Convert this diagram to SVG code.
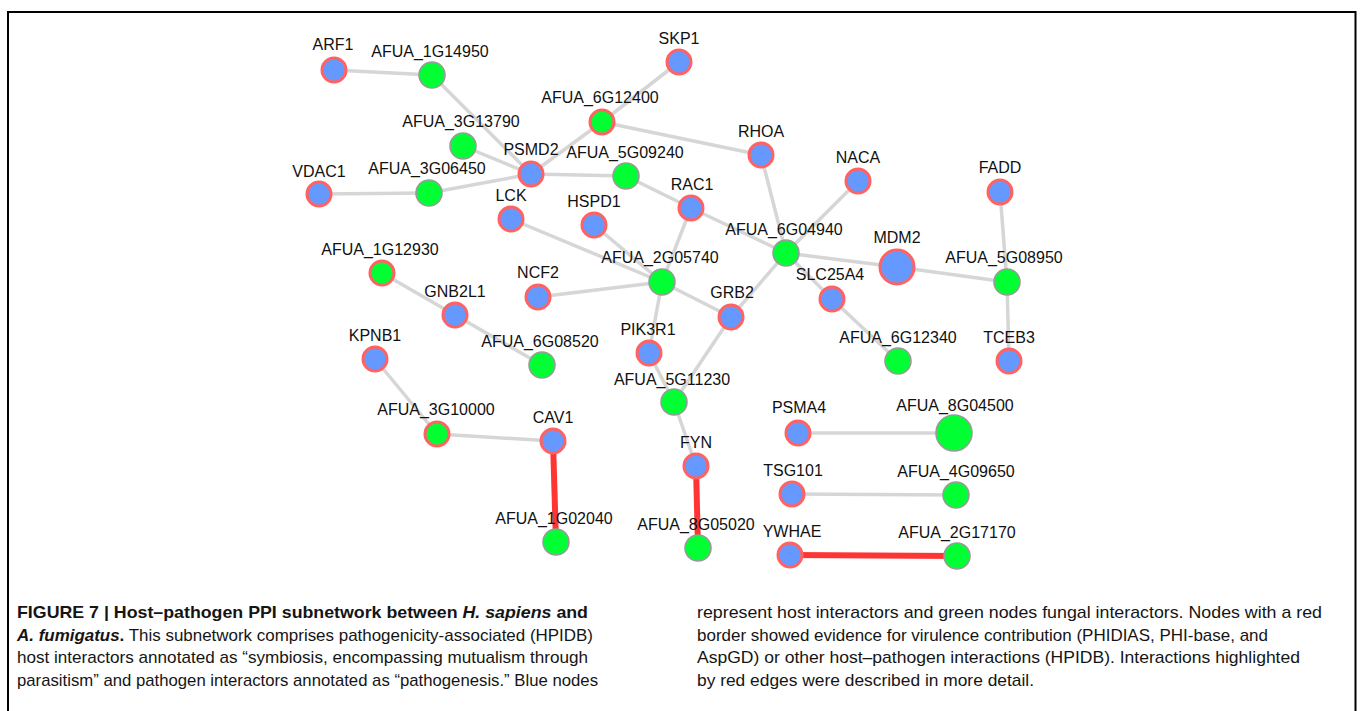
<svg xmlns="http://www.w3.org/2000/svg" width="1362" height="711" viewBox="0 0 1362 711">
<style>
.lbl{font-family:"Liberation Sans",Arial,sans-serif;font-size:16px;fill:#111;text-anchor:middle}
.host{fill:#6699ff;stroke:#ff6262;stroke-width:3}
.fun{fill:#00ff33;stroke:#9a9a9a;stroke-width:1.6}
.funr{fill:#00ff33;stroke:#ff6262;stroke-width:3}
.e{stroke:#d6d6d6;stroke-width:3.5;fill:none}
.er{stroke:#ff3535;stroke-width:6;fill:none}
.cap{font-family:"Liberation Sans",Arial,sans-serif;font-size:17px;fill:#151515}
</style>
<rect x="0" y="0" width="1362" height="711" fill="#fff"/>
<path d="M8,711 V12 H1355.5 V711" fill="none" stroke="#000" stroke-width="2"/>
<g id="connectors">
<line class="e" x1="334" y1="70" x2="432" y2="75"/>
<line class="e" x1="432" y1="75" x2="531" y2="174"/>
<line class="e" x1="463" y1="146" x2="531" y2="174"/>
<line class="e" x1="429" y1="193" x2="531" y2="174"/>
<line class="e" x1="319" y1="194" x2="429" y2="193"/>
<line class="e" x1="531" y1="174" x2="602" y2="122"/>
<line class="e" x1="679" y1="62" x2="602" y2="122"/>
<line class="e" x1="602" y1="122" x2="761" y2="155"/>
<line class="e" x1="531" y1="174" x2="626" y2="176"/>
<line class="e" x1="626" y1="176" x2="691" y2="208"/>
<line class="e" x1="691" y1="208" x2="786" y2="253"/>
<line class="e" x1="691" y1="208" x2="662" y2="282"/>
<line class="e" x1="761" y1="155" x2="786" y2="253"/>
<line class="e" x1="858" y1="181" x2="786" y2="253"/>
<line class="e" x1="786" y1="253" x2="897" y2="267"/>
<line class="e" x1="786" y1="253" x2="731" y2="317"/>
<line class="e" x1="786" y1="253" x2="832" y2="299"/>
<line class="e" x1="832" y1="299" x2="898" y2="361"/>
<line class="e" x1="897" y1="267" x2="1007" y2="282"/>
<line class="e" x1="1000" y1="192" x2="1007" y2="282"/>
<line class="e" x1="1007" y1="282" x2="1009" y2="361"/>
<line class="e" x1="511" y1="219" x2="662" y2="282"/>
<line class="e" x1="594" y1="225" x2="662" y2="282"/>
<line class="e" x1="538" y1="297" x2="662" y2="282"/>
<line class="e" x1="662" y1="282" x2="731" y2="317"/>
<line class="e" x1="662" y1="282" x2="649" y2="353"/>
<line class="e" x1="649" y1="353" x2="674" y2="402"/>
<line class="e" x1="731" y1="317" x2="674" y2="402"/>
<line class="e" x1="674" y1="402" x2="696" y2="466"/>
<line class="e" x1="382" y1="273" x2="455" y2="315"/>
<line class="e" x1="455" y1="315" x2="542" y2="365"/>
<line class="e" x1="375" y1="359" x2="437" y2="434"/>
<line class="e" x1="437" y1="434" x2="553" y2="441"/>
<line class="e" x1="798" y1="433" x2="954" y2="433"/>
<line class="e" x1="792" y1="494" x2="956" y2="495"/>
<line class="er" x1="553" y1="441" x2="556" y2="542"/>
<line class="er" x1="696" y1="466" x2="698" y2="548"/>
<line class="er" x1="790" y1="555" x2="957" y2="556"/>
</g>
<g id="n-ARF1"><circle class="host" cx="334" cy="70" r="12"/><text class="lbl" x="333" y="50">ARF1</text></g>
<g id="n-AFUA_1G14950"><circle class="fun" cx="432" cy="75" r="13"/><text class="lbl" x="430" y="57">AFUA_1G14950</text></g>
<g id="n-SKP1"><circle class="host" cx="679" cy="62" r="12"/><text class="lbl" x="679" y="44">SKP1</text></g>
<g id="n-AFUA_6G12400"><circle class="funr" cx="602" cy="122" r="12"/><text class="lbl" x="600" y="103">AFUA_6G12400</text></g>
<g id="n-AFUA_3G13790"><circle class="fun" cx="463" cy="146" r="13"/><text class="lbl" x="461" y="127">AFUA_3G13790</text></g>
<g id="n-RHOA"><circle class="host" cx="761" cy="155" r="12"/><text class="lbl" x="761" y="137">RHOA</text></g>
<g id="n-PSMD2"><circle class="host" cx="531" cy="174" r="12"/><text class="lbl" x="531" y="155">PSMD2</text></g>
<g id="n-AFUA_5G09240"><circle class="fun" cx="626" cy="176" r="13"/><text class="lbl" x="625" y="158">AFUA_5G09240</text></g>
<g id="n-NACA"><circle class="host" cx="858" cy="181" r="12"/><text class="lbl" x="858" y="163">NACA</text></g>
<g id="n-VDAC1"><circle class="host" cx="319" cy="194" r="12"/><text class="lbl" x="319" y="177">VDAC1</text></g>
<g id="n-AFUA_3G06450"><circle class="fun" cx="429" cy="193" r="13"/><text class="lbl" x="427" y="174">AFUA_3G06450</text></g>
<g id="n-FADD"><circle class="host" cx="1000" cy="192" r="12"/><text class="lbl" x="1000" y="173">FADD</text></g>
<g id="n-RAC1"><circle class="host" cx="691" cy="208" r="12"/><text class="lbl" x="692" y="190">RAC1</text></g>
<g id="n-LCK"><circle class="host" cx="511" cy="219" r="12"/><text class="lbl" x="511" y="201">LCK</text></g>
<g id="n-HSPD1"><circle class="host" cx="594" cy="225" r="12"/><text class="lbl" x="594" y="207">HSPD1</text></g>
<g id="n-AFUA_6G04940"><circle class="fun" cx="786" cy="253" r="13"/><text class="lbl" x="784" y="235">AFUA_6G04940</text></g>
<g id="n-MDM2"><circle class="host" cx="897" cy="267" r="17"/><text class="lbl" x="897" y="243">MDM2</text></g>
<g id="n-AFUA_5G08950"><circle class="fun" cx="1007" cy="282" r="13"/><text class="lbl" x="1004" y="263">AFUA_5G08950</text></g>
<g id="n-AFUA_2G05740"><circle class="fun" cx="662" cy="282" r="13"/><text class="lbl" x="660" y="263">AFUA_2G05740</text></g>
<g id="n-AFUA_1G12930"><circle class="funr" cx="382" cy="273" r="12"/><text class="lbl" x="380" y="255">AFUA_1G12930</text></g>
<g id="n-NCF2"><circle class="host" cx="538" cy="297" r="12"/><text class="lbl" x="538" y="278">NCF2</text></g>
<g id="n-SLC25A4"><circle class="host" cx="832" cy="299" r="12"/><text class="lbl" x="830" y="280">SLC25A4</text></g>
<g id="n-GRB2"><circle class="host" cx="731" cy="317" r="12"/><text class="lbl" x="732" y="298">GRB2</text></g>
<g id="n-GNB2L1"><circle class="host" cx="455" cy="315" r="12"/><text class="lbl" x="455" y="297">GNB2L1</text></g>
<g id="n-KPNB1"><circle class="host" cx="375" cy="359" r="12"/><text class="lbl" x="375" y="341">KPNB1</text></g>
<g id="n-AFUA_6G08520"><circle class="fun" cx="542" cy="365" r="13"/><text class="lbl" x="540" y="347">AFUA_6G08520</text></g>
<g id="n-PIK3R1"><circle class="host" cx="649" cy="353" r="12"/><text class="lbl" x="648" y="335">PIK3R1</text></g>
<g id="n-AFUA_6G12340"><circle class="fun" cx="898" cy="361" r="13"/><text class="lbl" x="898" y="343">AFUA_6G12340</text></g>
<g id="n-TCEB3"><circle class="host" cx="1009" cy="361" r="12"/><text class="lbl" x="1009" y="343">TCEB3</text></g>
<g id="n-AFUA_5G11230"><circle class="fun" cx="674" cy="402" r="13"/><text class="lbl" x="672" y="385">AFUA_5G11230</text></g>
<g id="n-AFUA_3G10000"><circle class="funr" cx="437" cy="434" r="12"/><text class="lbl" x="436" y="415">AFUA_3G10000</text></g>
<g id="n-CAV1"><circle class="host" cx="553" cy="441" r="12"/><text class="lbl" x="553" y="423">CAV1</text></g>
<g id="n-PSMA4"><circle class="host" cx="798" cy="433" r="12"/><text class="lbl" x="799" y="413">PSMA4</text></g>
<g id="n-AFUA_8G04500"><circle class="fun" cx="954" cy="433" r="18"/><text class="lbl" x="955" y="411">AFUA_8G04500</text></g>
<g id="n-FYN"><circle class="host" cx="696" cy="466" r="12"/><text class="lbl" x="696" y="448">FYN</text></g>
<g id="n-TSG101"><circle class="host" cx="792" cy="494" r="12"/><text class="lbl" x="793" y="476">TSG101</text></g>
<g id="n-AFUA_4G09650"><circle class="fun" cx="956" cy="495" r="13"/><text class="lbl" x="956" y="477">AFUA_4G09650</text></g>
<g id="n-AFUA_1G02040"><circle class="fun" cx="556" cy="542" r="13"/><text class="lbl" x="554" y="524">AFUA_1G02040</text></g>
<g id="n-AFUA_8G05020"><circle class="fun" cx="698" cy="548" r="13"/><text class="lbl" x="696" y="530">AFUA_8G05020</text></g>
<g id="n-YWHAE"><circle class="host" cx="790" cy="555" r="12"/><text class="lbl" x="792" y="537">YWHAE</text></g>
<g id="n-AFUA_2G17170"><circle class="fun" cx="957" cy="556" r="13"/><text class="lbl" x="957" y="538">AFUA_2G17170</text></g>
<g id="caption">
<text class="cap" x="17" y="618" textLength="571" lengthAdjust="spacingAndGlyphs"><tspan font-weight="bold">FIGURE 7 | Host–pathogen PPI subnetwork between <tspan font-style="italic">H. sapiens</tspan> and</tspan></text>
<text class="cap" x="17" y="641" textLength="576" lengthAdjust="spacingAndGlyphs"><tspan font-weight="bold" font-style="italic">A. fumigatus</tspan><tspan font-weight="bold">.</tspan> This subnetwork comprises pathogenicity-associated (HPIDB)</text>
<text class="cap" x="17" y="663" textLength="571" lengthAdjust="spacingAndGlyphs">host interactors annotated as “symbiosis, encompassing mutualism through</text>
<text class="cap" x="17" y="686" textLength="581" lengthAdjust="spacingAndGlyphs">parasitism” and pathogen interactors annotated as “pathogenesis.” Blue nodes</text>
<text class="cap" x="697" y="618" textLength="625" lengthAdjust="spacingAndGlyphs">represent host interactors and green nodes fungal interactors. Nodes with a red</text>
<text class="cap" x="697" y="641" textLength="571" lengthAdjust="spacingAndGlyphs">border showed evidence for virulence contribution (PHIDIAS, PHI-base, and</text>
<text class="cap" x="697" y="663" textLength="603" lengthAdjust="spacingAndGlyphs">AspGD) or other host–pathogen interactions (HPIDB). Interactions highlighted</text>
<text class="cap" x="697" y="686" textLength="337" lengthAdjust="spacingAndGlyphs">by red edges were described in more detail.</text>
</g>
</svg>
